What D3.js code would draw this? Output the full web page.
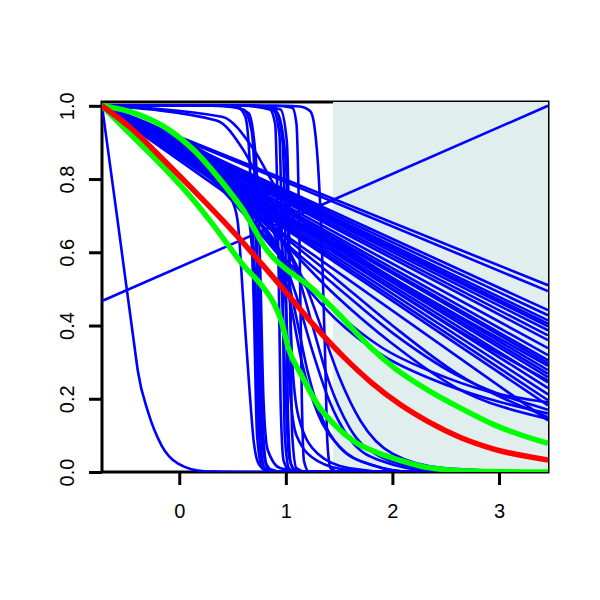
<!DOCTYPE html>
<html><head><meta charset="utf-8">
<script src="https://cdn.jsdelivr.net/npm/d3@7/dist/d3.min.js"></script>
<style>body{margin:0;background:#fff}</style>
</head><body>
<svg id="chart" width="600" height="600"></svg>
<script>
const xTicks = [0, 1, 2, 3];
const yTicks = [0, 0.2, 0.4, 0.6, 0.8, 1.0];
const xDomain = [-0.725, 3.46];
const yDomain = [0, 1.0104];
const shadeFrom = 1.443;

// straight posterior draws: start at (-0.725, 1), end at right edge
const fanStart = [-0.725, 1];
const fanEnds = [0.510, 0.494, 0.442, 0.428, 0.414, 0.405, 0.398, 0.387, 0.373, 0.360, 0.338,
                 0.319, 0.305, 0.297, 0.278, 0.268, 0.259, 0.245, 0.229, 0.212, 0.196, 0.182, 0.141];
const risingLine = [[-0.725, 0.467], [3.46, 1.0]];

// other posterior draws (blue)
const blueCurves = [
  [[-0.725,1],[-0.575,0.679],[-0.418,0.338],[-0.387,0.273],[-0.293,0.164],[-0.167,0.073],[-0.011,0.023],[0.239,0.002],[0.6,0],[3.46,0]],
  [[-0.725,1],[0.3,1],[0.55,0.995],[0.62,0.97],[0.66,0.85],[0.70,0.45],[0.73,0.1],[0.78,0.01],[0.9,0],[3.46,0]],
  [[-0.725,1],[0,0.87],[0.55,0.77],[0.65,0.72],[0.7,0.6],[0.74,0.3],[0.77,0.05],[0.82,0],[3.46,0]],
  [[-0.725,1],[0.4,1],[0.6,0.99],[0.68,0.93],[0.72,0.7],[0.75,0.35],[0.78,0.08],[0.83,0.01],[1.0,0],[3.46,0]],
  [[-0.725,1],[0,0.9],[0.5,0.8],[0.62,0.74],[0.68,0.62],[0.72,0.35],[0.75,0.1],[0.8,0.01],[0.9,0],[3.46,0]],
  [[-0.725,1],[0.45,1],[0.65,0.98],[0.72,0.85],[0.76,0.55],[0.79,0.2],[0.83,0.06],[0.95,0.01],[1.2,0],[3.46,0]],
  [[-0.725,1],[0.2,0.86],[0.6,0.76],[0.7,0.68],[0.75,0.45],[0.78,0.15],[0.82,0.02],[0.9,0],[3.46,0]],
  [[-0.725,1],[0,0.87],[0.4,0.79],[0.5,0.74],[0.55,0.68],[0.6,0.47],[0.66,0.22],[0.7,0.08],[0.75,0.02],[0.85,0],[3.46,0]],
  [[-0.725,1],[0.6,1],[0.85,0.99],[0.9,0.95],[0.93,0.6],[0.95,0.2],[0.98,0.03],[1.05,0],[3.46,0]],
  [[-0.725,1],[0.65,1],[0.88,0.99],[0.94,0.92],[0.97,0.5],[0.99,0.1],[1.03,0.01],[1.1,0],[3.46,0]],
  [[-0.725,1],[0.2,0.85],[0.8,0.7],[0.92,0.62],[0.97,0.45],[1.0,0.2],[1.03,0.04],[1.1,0],[3.46,0]],
  [[-0.725,1],[0.7,1],[0.9,0.99],[0.97,0.9],[1.0,0.55],[1.02,0.15],[1.05,0.02],[1.12,0],[3.46,0]],
  [[-0.725,1],[0.2,0.88],[0.85,0.74],[0.95,0.66],[1.0,0.45],[1.04,0.22],[1.1,0.1],[1.3,0.03],[1.6,0.005],[2,0],[3.46,0]],
  [[-0.725,1],[0.7,1],[0.92,0.98],[1.0,0.85],[1.03,0.55],[1.06,0.3],[1.12,0.15],[1.3,0.05],[1.6,0.01],[2.0,0],[3.46,0]],
  [[-0.725,1],[0.75,1],[0.95,0.99],[1.01,0.9],[1.04,0.5],[1.06,0.1],[1.1,0.01],[1.2,0],[3.46,0]],
  [[-0.725,1],[0.9,1],[1.06,0.995],[1.1,0.95],[1.13,0.6],[1.15,0.2],[1.17,0.03],[1.22,0],[3.46,0]],
  [[-0.725,1],[1.0,1],[1.13,0.998],[1.23,0.985],[1.27,0.94],[1.31,0.80],[1.34,0.6],[1.37,0.3],[1.39,0.08],[1.42,0.01],[1.5,0],[3.46,0]],
  [[-0.725,1],[0.2,0.84],[0.8,0.66],[1.0,0.55],[1.1,0.42],[1.2,0.28],[1.35,0.14],[1.5,0.07],[1.8,0.02],[2.2,0],[3.46,0]],
  [[-0.725,1],[0.2,0.86],[0.9,0.66],[1.1,0.55],[1.25,0.4],[1.4,0.25],[1.6,0.12],[1.9,0.04],[2.3,0.01],[3.0,0],[3.46,0]],
  [[-0.725,1],[0.3,0.84],[1.0,0.62],[1.2,0.5],[1.35,0.38],[1.5,0.26],[1.7,0.14],[2.0,0.05],[2.5,0.01],[3.46,0]],
  [[-0.725,1],[0.1,0.87],[0.7,0.70],[0.95,0.60],[1.1,0.48],[1.25,0.33],[1.4,0.2],[1.6,0.09],[1.9,0.03],[2.4,0.003],[3.46,0]],
  [[-0.725,1],[0.3,0.80],[0.8,0.66],[0.95,0.58],[1.05,0.45],[1.15,0.3],[1.3,0.16],[1.5,0.07],[1.8,0.02],[2.2,0],[3.46,0]],
  [[-0.725,1],[0.3,0.82],[1.0,0.64],[1.46,0.53],[2.0,0.40],[2.6,0.27],[3.46,0.15]],
  [[-0.725,1],[0.3,0.83],[1.0,0.625],[1.46,0.51],[2.0,0.38],[2.6,0.265],[3.46,0.17]],
  [[-0.725,1],[0.2,0.84],[0.9,0.65],[1.46,0.484],[2.0,0.35],[2.6,0.23],[3.46,0.145]],
  [[-0.725,1],[0.3,0.81],[1.0,0.58],[1.46,0.44],[1.9,0.34],[2.4,0.27],[2.9,0.22],[3.46,0.19]],
  [[-0.725,1],[0.3,0.80],[1.0,0.57],[1.46,0.42],[1.9,0.32],[2.4,0.25],[2.9,0.2],[3.46,0.16]],
  [[-0.725,1],[0.35,0.96],[0.6,0.88],[0.8,0.77],[1.0,0.68],[1.46,0.60],[2.0,0.50],[2.6,0.39],[3.46,0.25]],
  [[-0.725,1],[0.4,0.97],[0.7,0.88],[0.9,0.78],[1.1,0.70],[1.46,0.63],[2.0,0.53],[2.6,0.43],[3.46,0.29]]
];

const meanCurve = [[-0.725,1.0],[-0.45,0.938],[-0.14,0.85],[0.2,0.75],[0.43,0.68],[0.66,0.606],[0.99,0.495],
  [1.25,0.405],[1.54,0.315],[1.8,0.245],[2.07,0.185],[2.34,0.137],[2.65,0.093],[2.96,0.062],[3.46,0.033]];
const upperBand = [[-0.725,1.0],[-0.4,0.978],[-0.1,0.935],[0.15,0.875],[0.35,0.81],[0.5,0.755],[0.6,0.715],
  [0.7,0.665],[0.8,0.615],[0.9,0.58],[1.0,0.555],[1.24,0.503],[1.49,0.433],[1.805,0.337],[2.023,0.283],[2.336,0.223],
  [2.65,0.173],[2.962,0.128],[3.46,0.078]];
const lowerBand = [[-0.725,1.0],[-0.481,0.929],[-0.167,0.838],[0.146,0.738],[0.302,0.681],[0.615,0.560],[0.772,0.510],
  [0.897,0.455],[0.960,0.410],[1.022,0.340],[1.147,0.264],[1.303,0.182],[1.460,0.128],[1.648,0.082],[1.867,0.052],
  [2.070,0.032],[2.336,0.012],[2.8,0.002],[3.46,0]];

const L = 102, R = 548, T = 102, B = 472;
const svg = d3.select("#chart");
const x = d3.scaleLinear().domain(xDomain).range([L, R]);
const y = d3.scaleLinear().domain(yDomain).range([B, T]);

svg.append("defs").append("clipPath").attr("id", "plotclip")
  .append("rect").attr("x", L).attr("y", T).attr("width", R - L).attr("height", B - T);

// frame
svg.append("rect").attr("x", L).attr("y", T).attr("width", R - L).attr("height", B - T)
  .attr("fill", "none").attr("stroke", "#000").attr("stroke-width", 3);

const plot = svg.append("g").attr("clip-path", "url(#plotclip)");
plot.append("rect").attr("x", x(shadeFrom)).attr("y", T).attr("width", R - x(shadeFrom) + 5).attr("height", B - T)
  .attr("fill", "#e0eeee");

const line = d3.line().x(d => x(d[0])).y(d => y(d[1])).curve(d3.curveMonotoneX);
const straight = d3.line().x(d => x(d[0])).y(d => y(d[1]));
const BW = 2.6;

fanEnds.forEach(e => {
  plot.append("path").attr("d", straight([fanStart, [xDomain[1], e]]))
    .attr("fill", "none").attr("stroke", "#0000ff").attr("stroke-width", BW);
});
plot.append("path").attr("d", straight(risingLine))
  .attr("fill", "none").attr("stroke", "#0000ff").attr("stroke-width", BW);
blueCurves.forEach(c => {
  plot.append("path").attr("d", line(c))
    .attr("fill", "none").attr("stroke", "#0000ff").attr("stroke-width", BW);
});
[upperBand, lowerBand].forEach(c => {
  plot.append("path").attr("d", line(c))
    .attr("fill", "none").attr("stroke", "#00ff00").attr("stroke-width", 5.5);
});
plot.append("path").attr("d", line(meanCurve))
  .attr("fill", "none").attr("stroke", "#ff0000").attr("stroke-width", 5.5);

// axes
const FONT = "Liberation Sans, Arial, Helvetica, sans-serif";
const xAxis = d3.axisBottom(x).tickValues(xTicks).tickSize(13).tickFormat(d3.format("d"));
const gx = svg.append("g").attr("transform", `translate(0,${B})`).call(xAxis);
gx.select(".domain").remove();
gx.selectAll(".tick line").attr("stroke", "#000").attr("stroke-width", 3);
gx.selectAll(".tick text").attr("font-family", FONT).style("font-size", "20px").attr("fill", "#000")
  .attr("y", 46).attr("dy", 0);

const yAxis = d3.axisLeft(y).tickValues(yTicks).tickSize(13).tickFormat(d3.format(".1f"));
const gy = svg.append("g").attr("transform", `translate(${L},0)`).call(yAxis);
gy.select(".domain").remove();
gy.selectAll(".tick line").attr("stroke", "#000").attr("stroke-width", 3);
gy.selectAll(".tick text").attr("font-family", FONT).style("font-size", "20px").attr("fill", "#000")
  .attr("transform", "rotate(-90)").attr("x", 0).attr("y", -28).attr("dy", 0).attr("text-anchor", "middle");
</script>
</body></html>
